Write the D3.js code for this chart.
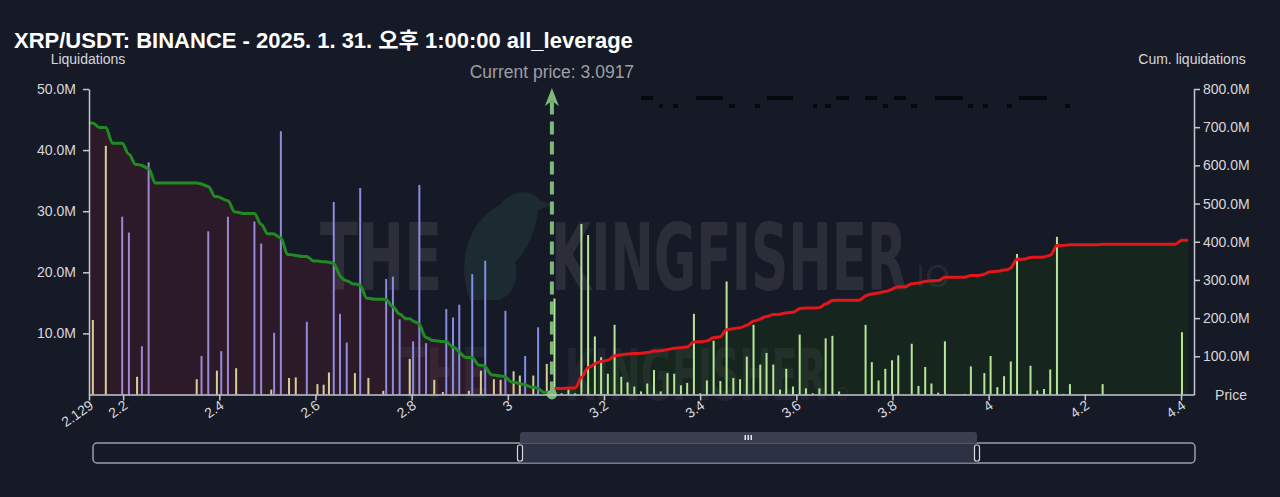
<!DOCTYPE html>
<html>
<head>
<meta charset="utf-8">
<script src="https://cdn.jsdelivr.net/npm/d3@7"></script>
<style>
  body { margin: 0; background: #161a26; }
  svg { display: block; font-family: "Liberation Sans", "Noto Sans CJK KR", sans-serif; }
</style>
</head>
<body>
<svg id="chart" width="1280" height="497"></svg>
<script>
// ---- data (values in millions of USDT) ----
const chartTitle = 'XRP/USDT: BINANCE - 2025. 1. 31. 오후 1:00:00 all_leverage';
const currentPrice = 3.0917;
const priceStart = 2.129;
const priceEnd = 4.427;
const cumEnd = 4.415;
const binWidth = 0.0139;

const priceTicks = [2.129, 2.2, 2.4, 2.6, 2.8, 3, 3.2, 3.4, 3.6, 3.8, 4, 4.2, 4.4];
const liqTicks = [10, 20, 30, 40, 50];
const cumTicks = [100, 200, 300, 400, 500, 600, 700, 800];

// long liquidations (below current price)
const longPrices = [2.137, 2.164, 2.198, 2.212, 2.229, 2.239, 2.253, 2.353, 2.363, 2.377,
  2.395, 2.404, 2.418, 2.435, 2.473, 2.487, 2.508, 2.514, 2.528, 2.545,
  2.559, 2.582, 2.604, 2.617, 2.628, 2.638, 2.651, 2.665, 2.682, 2.693,
  2.710, 2.741, 2.747, 2.761, 2.775, 2.796, 2.803, 2.816, 2.830, 2.847,
  2.865, 2.872, 2.886, 2.899, 2.919, 2.926, 2.944, 2.953, 2.971, 2.985,
  2.995, 3.012, 3.025, 3.036, 3.053, 3.063, 3.081];
const longValues = [12.2, 40.7, 29.1, 26.5, 2.9, 7.9, 38.0, 2.5, 6.3, 26.7,
  3.9, 7.1, 29.1, 4.3, 28.3, 24.7, 0.8, 10.1, 43.1, 2.7,
  2.8, 11.9, 1.7, 1.6, 3.6, 31.5, 13.2, 8.5, 3.5, 33.8,
  2.7, 0.6, 18.9, 19.3, 12.3, 5.8, 8.7, 34.3, 8.4, 2.4,
  0.4, 14.0, 12.6, 14.7, 0.6, 19.7, 3.9, 21.9, 2.5, 2.4,
  13.7, 3.8, 3.1, 6.3, 3.1, 11.0, 5.0];
// 'a' = low leverage (khaki), 'b' = high leverage (violet/blue)
const longKinds = ['a', 'a', 'b', 'b', 'a', 'b', 'b', 'a', 'b', 'b',
  'a', 'b', 'b', 'a', 'b', 'b', 'a', 'b', 'b', 'a',
  'a', 'b', 'a', 'a', 'a', 'b', 'b', 'b', 'a', 'b',
  'a', 'a', 'b', 'b', 'b', 'a', 'b', 'b', 'b', 'a',
  'a', 'b', 'b', 'b', 'a', 'b', 'a', 'b', 'a', 'a',
  'b', 'a', 'a', 'b', 'a', 'b', 'a'];

// short liquidations (above current price)
const shortPrices = [3.097, 3.112, 3.126, 3.140, 3.153, 3.167, 3.181, 3.194, 3.208, 3.222,
  3.236, 3.249, 3.263, 3.277, 3.290, 3.304, 3.318, 3.332, 3.346, 3.360,
  3.373, 3.387, 3.400, 3.414, 3.428, 3.442, 3.455, 3.469, 3.483, 3.497,
  3.511, 3.525, 3.538, 3.552, 3.566, 3.579, 3.593, 3.607, 3.620, 3.634,
  3.648, 3.661, 3.675, 3.689, 3.744, 3.757, 3.771, 3.785, 3.799, 3.812,
  3.840, 3.854, 3.868, 3.881, 3.895, 3.909, 3.950, 3.963, 3.991, 4.004,
  4.018, 4.032, 4.046, 4.059, 4.087, 4.101, 4.115, 4.128, 4.142, 4.155,
  4.169, 4.237, 4.402];
const shortValues = [15.7, 0.2, 0.8, 0.2, 27.9, 26.1, 9.5, 6.1, 3.4, 11.4,
  2.9, 2.0, 1.3, 0.5, 1.8, 4.0, 0.5, 3.5, 3.4, 1.5,
  1.9, 13.2, 0.2, 2.3, 8.8, 2.2, 18.5, 2.7, 2.5, 6.2,
  11.4, 4.9, 6.8, 4.9, 0.8, 4.2, 1.3, 9.8, 1.0, 0.2,
  1.0, 9.2, 9.6, 0.5, 11.4, 5.3, 2.3, 4.2, 5.6, 6.4,
  8.3, 1.4, 4.5, 1.8, 0.3, 8.7, 0.1, 4.6, 3.5, 6.3,
  1.2, 3.0, 5.4, 23.0, 4.7, 0.65, 0.9, 4.1, 25.8, 0.1,
  1.7, 1.7, 10.2];

// ---- layout ----
const svg = d3.select('#chart');
const plot = { left: 89, right: 1194, top: 89, bottom: 394.5 };
const bg = '#161a26';
const axisColor = '#c4c7d0';
const textColor = '#d6d7dc';

const x = d3.scaleLinear().domain([priceStart, priceEnd]).range([plot.left, plot.right]);
const yLiq = d3.scaleLinear().domain([0, 50]).range([plot.bottom, plot.top]);
const yCum = d3.scaleLinear().domain([0, 800]).range([plot.bottom, plot.top]);

const longs = longPrices.map((p, i) => ({ p: p, v: longValues[i], k: longKinds[i] }));
const shorts = shortPrices.map((p, i) => ({ p: p, v: shortValues[i] }));

svg.append('rect').attr('width', 1280).attr('height', 497).attr('fill', bg);

// cumulative points: longs count down toward price, shorts count up away from it
let c = d3.sum(longValues);
let longCum = [[priceStart, c]];
longs.forEach((d, i) => {
  const next = i < longs.length - 1 ? longs[i + 1].p : currentPrice;
  longCum.push([d.p, c]);
  c -= d.v;
  longCum.push([Math.min(d.p + binWidth, next), c]);
});
longCum.push([currentPrice, Math.max(c, 0)]);

c = shorts[0].v;
let shortCum = [[shorts[0].p, c]];
shorts.slice(1).forEach((d, i) => {
  const prev = shorts[i].p;
  shortCum.push([Math.max(d.p - binWidth, prev), c]);
  c += d.v;
  shortCum.push([d.p, c]);
});
shortCum.push([cumEnd, c]);

// drop repeated x positions so the monotone curve stays well defined
const dedupe = pts => pts.filter((d, i) => i === 0 || d[0] - pts[i - 1][0] > 1e-6);
longCum = dedupe(longCum);
shortCum = dedupe(shortCum);

const area = d3.area().x(d => x(d[0])).y0(plot.bottom).y1(d => yCum(d[1])).curve(d3.curveMonotoneX);
const line = d3.line().x(d => x(d[0])).y(d => yCum(d[1])).curve(d3.curveMonotoneX);

svg.append('path').attr('d', area(longCum)).attr('fill', '#2d1a28');
svg.append('path').attr('d', area([[currentPrice, 0]].concat(shortCum))).attr('fill', '#16261f');

// watermark: each word squeezed horizontally to its width
const wm = svg.append('g').attr('font-family', '"DejaVu Sans Condensed", "DejaVu Sans", sans-serif')
  .attr('font-weight', 'bold').attr('fill', '#ffffff');
wm.append('path')
  .attr('d', 'M470,300 C455,260 470,220 500,205 C510,190 530,188 540,200 L553,205 L538,210 ' +
    'C536,230 528,250 515,262 C520,280 512,295 500,300 Z')
  .attr('fill', '#2f5a55').attr('fill-opacity', 0.25);
function mark(str, tx, ty, size, width, opacity, weight) {
  const t = wm.append('text').attr('font-size', size).attr('fill-opacity', opacity)
    .attr('font-weight', weight || 'bold').text(str);
  const sx = width / t.node().getComputedTextLength();
  t.attr('transform', `translate(${tx},${ty}) scale(${sx},1)`);
}
mark('THE', 320, 290, 92, 122, 0.09);
mark('KINGFISHER', 551, 290, 92, 356, 0.09);
mark('IO', 916, 287, 30, 34, 0.08, 'normal');
mark('THE', 398, 398, 70, 92, 0.05);
mark('KINGFISHER', 565, 400, 72, 262, 0.05);
mark('IO', 831, 400, 18, 18, 0.05, 'normal');

// bars
const violet = d3.interpolateRgb('#a585cf', '#7c8fe8');
svg.append('g').selectAll('rect').data(longs).join('rect')
  .attr('x', d => x(d.p) - 1).attr('width', 2)
  .attr('y', d => yLiq(d.v)).attr('height', d => plot.bottom - yLiq(d.v))
  .attr('fill', d => d.k === 'a' ? '#d5cf94'
    : violet((d.p - priceStart) / (currentPrice - priceStart)));
svg.append('g').selectAll('rect').data(shorts).join('rect')
  .attr('x', d => x(d.p) - 1).attr('width', 2)
  .attr('y', d => yLiq(d.v)).attr('height', d => plot.bottom - yLiq(d.v))
  .attr('fill', '#b5e693');

// cumulative lines
svg.append('path').attr('d', line(longCum)).attr('fill', 'none')
  .attr('stroke', '#1f8c22').attr('stroke-width', 3);
svg.append('path').attr('d', line(shortCum)).attr('fill', 'none')
  .attr('stroke', '#e3161b').attr('stroke-width', 3);

// current price marker
const px = x(currentPrice);
svg.append('line').attr('x1', px).attr('x2', px).attr('y1', plot.bottom).attr('y2', 100)
  .attr('stroke', '#7db77a').attr('stroke-width', 4).attr('stroke-dasharray', '13 7');
svg.append('path')
  .attr('d', `M${px},88 L${px + 7},106 L${px},101 L${px - 7},106 Z`)
  .attr('fill', '#7db77a');
svg.append('circle').attr('cx', px).attr('cy', plot.bottom).attr('r', 5).attr('fill', '#7db77a');
svg.append('text').attr('x', px).attr('y', 78).attr('text-anchor', 'middle')
  .attr('font-size', 17.5).attr('fill', '#9d9fa4').text('Current price: ' + currentPrice);

// axes
const fmtM = d => d.toFixed(1) + 'M';
const styleAxis = g => {
  g.select('.domain').attr('stroke', axisColor).attr('stroke-width', 1.5);
  g.selectAll('.tick line').attr('stroke', axisColor).attr('stroke-width', 1.5);
  g.selectAll('.tick text').attr('fill', textColor).attr('font-size', 14)
    .attr('font-family', '"Liberation Sans", sans-serif');
};
svg.append('g').attr('transform', `translate(${plot.left},0)`)
  .call(d3.axisLeft(yLiq).tickValues(liqTicks).tickFormat(fmtM).tickSizeOuter(0).tickPadding(7))
  .call(styleAxis);
svg.append('g').attr('transform', `translate(${plot.right},0)`)
  .call(d3.axisRight(yCum).tickValues(cumTicks).tickFormat(fmtM).tickSizeOuter(0))
  .call(styleAxis);
const xAxis = svg.append('g').attr('transform', `translate(0,${plot.bottom})`)
  .call(d3.axisBottom(x).tickValues(priceTicks).tickFormat(d => String(+d.toFixed(3))).tickSizeOuter(0))
  .call(styleAxis);
xAxis.selectAll('.tick text').attr('text-anchor', 'end').attr('x', 0).attr('y', 0).attr('dy', 0)
  .attr('transform', 'translate(5,13) rotate(-35)');

// labels
svg.append('text').attr('x', 14).attr('y', 48).attr('font-size', 22).attr('font-weight', 'bold')
  .attr('fill', '#ffffff').text(chartTitle);
svg.append('text').attr('x', 88).attr('y', 64).attr('text-anchor', 'middle')
  .attr('font-size', 14).attr('fill', textColor).text('Liquidations');
svg.append('text').attr('x', 1192).attr('y', 64).attr('text-anchor', 'middle')
  .attr('font-size', 14).attr('fill', textColor).text('Cum. liquidations');
svg.append('text').attr('x', 1231).attr('y', 400).attr('text-anchor', 'middle')
  .attr('font-size', 14).attr('fill', textColor).text('Price');

// faint legend remnants (dark on dark)
const dark = svg.append('g').attr('fill', '#07080c');
[[641, 653], [696, 723], [767, 793], [836, 849], [865, 877], [894, 906], [935, 963], [1019, 1047]]
  .forEach(s => dark.append('rect').attr('x', s[0]).attr('y', 96).attr('width', s[1] - s[0]).attr('height', 4));
[[659, 663], [673, 678], [729, 735], [755, 760], [813, 817], [825, 831], [883, 888], [911, 917],
  [968, 973], [983, 988], [1007, 1012], [1065, 1070]]
  .forEach(s => dark.append('rect').attr('x', s[0]).attr('y', 104).attr('width', s[1] - s[0]).attr('height', 4));

// range slider
const slider = svg.append('g');
slider.append('rect').attr('x', 93).attr('y', 443).attr('width', 1102).attr('height', 20).attr('rx', 4)
  .attr('fill', bg).attr('stroke', '#9a9dab').attr('stroke-width', 1.5);
slider.append('rect').attr('x', 520).attr('y', 443.5).attr('width', 457).attr('height', 19)
  .attr('fill', '#2c3144');
slider.append('path').attr('d', 'M520,443 V435 Q520,432 523,432 H974 Q977,432 977,435 V443 Z')
  .attr('fill', '#3b3f50');
[745, 748, 751].forEach(gx => slider.append('rect').attr('x', gx - 0.5).attr('y', 435)
  .attr('width', 1.5).attr('height', 5).attr('fill', '#e8e8ee'));
[520, 977].forEach(hx => slider.append('rect').attr('x', hx - 2.5).attr('y', 445).attr('width', 5)
  .attr('height', 16).attr('rx', 2).attr('fill', bg).attr('stroke', '#d8dae2').attr('stroke-width', 1.2));
</script>
</body>
</html>
